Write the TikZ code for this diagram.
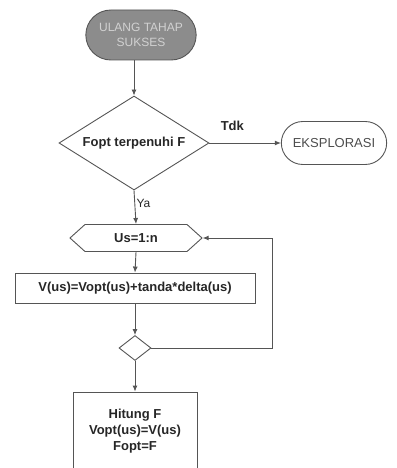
\documentclass[tikz,border=0pt]{standalone}
\usepackage{fontspec}
\setmainfont{Liberation Sans}
\usetikzlibrary{arrows.meta,shapes.geometric,shapes.misc,shapes.symbols}
\tikzset{>={Latex[length=6pt,width=5pt]}}
\definecolor{linegray}{RGB}{85,85,85}
\definecolor{startgray}{RGB}{140,140,140}
\tikzset{
  every node/.style={font=\fontsize{13}{16}\selectfont\bfseries, text=black!85},
  box/.style={draw=linegray, line width=0.9pt, rectangle},
  term/.style={draw=linegray, line width=0.9pt, rounded rectangle},
  cond/.style={draw=linegray, line width=0.9pt, diamond, inner sep=0pt},
  conn/.style={draw=linegray, line width=0.9pt}
}

\begin{document}
\begin{tikzpicture}[x=1pt, y=-1pt]
    \useasboundingbox (0,0) rectangle (396,468);
    \node [term, fill=startgray, text=black!18, font=\fontsize{12}{14.5}\selectfont, align=center, minimum width=117pt, minimum height=50pt] (start) at (141,35) {ULANG TAHAP\\SUKSES};
    \node [cond, shape aspect=1.6, minimum width=150pt, minimum height=94pt] (fopt) at (134,143) {Fopt terpenuhi F};
    \node [term, font=\fontsize{13}{16}\selectfont, text=black!70, minimum width=112pt, minimum height=43pt] (eks) at (334,143) {EKSPLORASI};
    \node [conn, signal, signal to=west and east, signal pointer angle=84, minimum width=132pt, minimum height=27pt, inner sep=0pt] (us) at (136,238) {Us=1:n};
    \node [box, minimum width=240pt, minimum height=30pt] (vus) at (135,288) {V(us)=Vopt(us)+tanda*delta(us)};
    \node [cond, minimum width=32pt, minimum height=25pt] (cek) at (135,348) {};
    \node [box, align=center, minimum width=124pt, minimum height=78pt] (hit) at (135,431) {Hitung F\\Vopt(us)=V(us)\\Fopt=F};
    \coordinate (back) at (272,238);

    \draw [conn, ->] (start.south -| fopt.north) -- (fopt.north);
    \draw [conn, ->] (fopt.east) -- (eks.west) node[pos=0.32, above, yshift=9pt]{Tdk};
    \draw [conn, ->] (fopt.south) -- (us.north) node[pos=0.38, right, xshift=-2pt, font=\fontsize{12}{14}\selectfont]{Ya};
    \draw [conn, ->] (us.south) -- (vus.north);
    \draw [conn, ->] (vus.south) -- (cek.north);
    \draw [conn, ->] (cek.south) -- (hit.north);
    \draw [conn, ->] (cek.east) -| (back) -- (us.east);
  \end{tikzpicture}
\end{document}
